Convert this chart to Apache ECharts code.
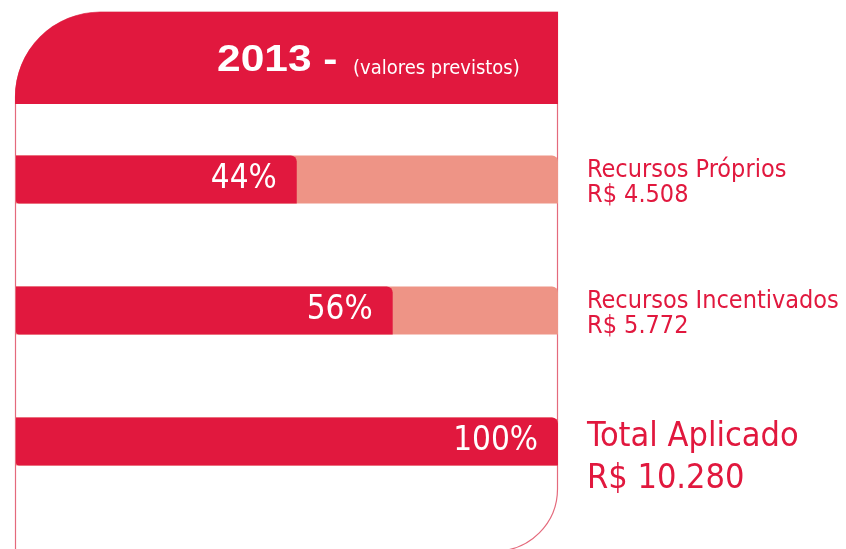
<!DOCTYPE html>
<html>
<head>
<meta charset="utf-8">
<script src="https://cdn.jsdelivr.net/npm/echarts@6/dist/echarts.min.js"></script>
<style>
  html, body { margin: 0; padding: 0; background: #fff; }
  #chart { width: 846px; height: 549px; }
</style>
</head>
<body>
<div id="chart"></div>
<script>
// values
const CATEGORIES = ['Recursos Próprios', 'Recursos Incentivados', 'Total Aplicado'];
const AMOUNTS = ['R$ 4.508', 'R$ 5.772', 'R$ 10.280'];
const PCT_LABELS = ['44%', '56%', '100%'];
// drawn bar lengths (the infographic does not draw them to scale)
const BAR_LENGTHS = [51.8, 69.5, 100];

const RED = '#e1183e';
const SALMON = '#ee9486';
const NARROW = "'Liberation Sans Narrow', 'DejaVu Sans Condensed', sans-serif";

const chart = echarts.init(document.getElementById('chart'), null, { renderer: 'canvas' });

chart.setOption({
  animation: false,
  grid: {
    left: 16, right: 288, top: 114, height: 393,
    containLabel: false,
    outerBoundsMode: 'none'
  },
  xAxis: {
    type: 'value',
    min: 0,
    max: 100,
    show: false
  },
  yAxis: [
    {
      type: 'category',
      data: CATEGORIES,
      inverse: true,
      show: false
    },
    {
      type: 'category',
      data: CATEGORIES,
      inverse: true,
      position: 'right',
      axisLine: { show: false },
      axisTick: { show: false },
      axisLabel: {
        margin: 29,
        align: 'left',
        padding: [6, 0, 0, 0],
        formatter: (value, i) => {
          const big = i === CATEGORIES.length - 1;
          return big
            ? `{gap| }\n{bigName|${value}}\n{bigVal|${AMOUNTS[i]}}`
            : `{name|${value}}\n{val|${AMOUNTS[i]}}`;
        },
        rich: {
          name: { fontFamily: NARROW, fontSize: 25, lineHeight: 25, color: RED },
          val: { fontFamily: NARROW, fontSize: 25, lineHeight: 25, color: RED },
          gap: { fontSize: 10, lineHeight: 28 },
          bigName: { fontFamily: NARROW, fontSize: 34, lineHeight: 42, color: RED },
          bigVal: { fontFamily: NARROW, fontSize: 34, lineHeight: 42, color: RED }
        }
      }
    }
  ],
  series: [
    {
      type: 'bar',
      data: BAR_LENGTHS,
      barWidth: 48,
      itemStyle: { color: RED, borderRadius: [0, 6, 0, 3] },
      showBackground: true,
      backgroundStyle: { color: SALMON, borderRadius: [0, 6, 0, 0] },
      label: {
        show: true,
        position: 'insideRight',
        distance: 20,
        color: '#fff',
        fontFamily: NARROW,
        fontSize: 33,
        formatter: p => PCT_LABELS[p.dataIndex]
      }
    }
  ],
  graphic: [
    {
      // outline of the card
      type: 'rect',
      z: 1,
      shape: { x: 15.5, y: 12, width: 542, height: 539, r: [85, 0, 62, 0] },
      style: { fill: null, stroke: '#e46a7c', lineWidth: 1.2 }
    },
    {
      // red header
      type: 'rect',
      z: 2,
      shape: { x: 15, y: 12, width: 543, height: 92, r: [85, 0, 0, 0] },
      style: { fill: RED }
    },
    {
      type: 'text',
      z: 3,
      x: 217,
      y: 61,
      scaleX: 1.18,
      style: {
        text: '2013 -',
        fill: '#fff',
        font: "bold 36px 'Liberation Sans', Arial, sans-serif",
        verticalAlign: 'middle'
      }
    },
    {
      type: 'text',
      z: 3,
      x: 353,
      y: 69,
      style: {
        text: '(valores previstos)',
        fill: '#fff',
        font: "20px " + NARROW,
        verticalAlign: 'middle'
      }
    }
  ]
});
</script>
</body>
</html>
